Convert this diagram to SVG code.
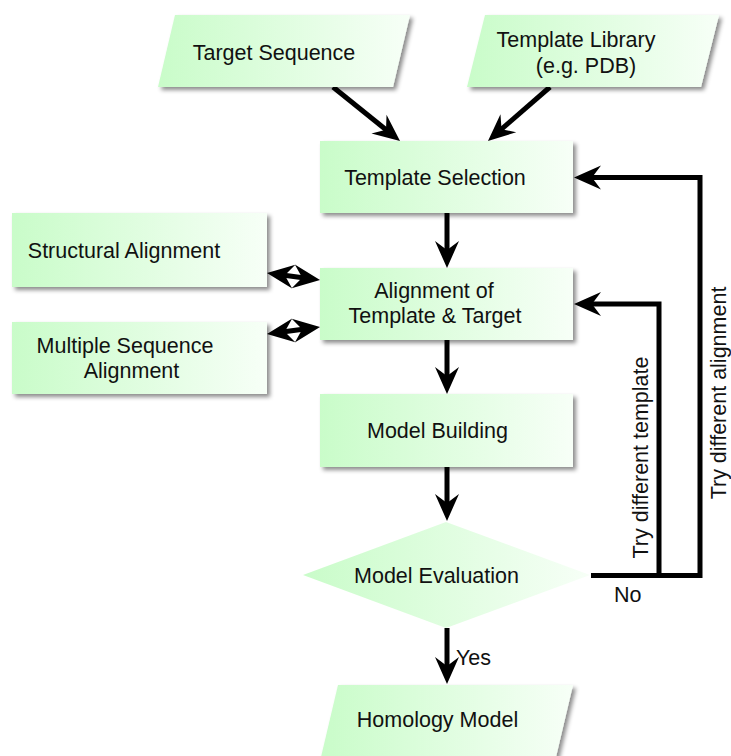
<svg xmlns="http://www.w3.org/2000/svg" width="731" height="756" viewBox="0 0 731 756">
<defs>
<linearGradient id="g" x1="0" y1="0" x2="1" y2="0">
<stop offset="0" stop-color="#c9fcc9"/>
<stop offset="1" stop-color="#f7fff7"/>
</linearGradient>
<filter id="sh" x="-10%" y="-10%" width="125%" height="135%">
<feDropShadow dx="3" dy="3" stdDeviation="2" flood-color="#000" flood-opacity="0.45"/>
</filter>
<marker id="ah" markerUnits="userSpaceOnUse" viewBox="-20 -13 30 26" markerWidth="30" markerHeight="26" refX="0" refY="0" orient="auto-start-reverse">
<path d="M8,0 L-19,-12 L-10,0 L-19,12 Z" fill="#000"/>
</marker>
</defs>
<style>
.n{fill:url(#g);filter:url(#sh)}
.d{fill:url(#g)}
.t{font-family:"Liberation Sans",Arial,Helvetica,sans-serif;font-size:21.5px;fill:#111;text-anchor:middle}
.l{font-family:"Liberation Sans",Arial,Helvetica,sans-serif;font-size:21.5px;fill:#111}
.c{fill:none;stroke:#000;stroke-width:5}
.a{marker-end:url(#ah)}
.b{marker-start:url(#ah);marker-end:url(#ah)}
</style>
<rect width="731" height="756" fill="#fff"/>

<g id="connectors">
<line class="c a" x1="333" y1="87" x2="393.8" y2="136"/>
<line class="c a" x1="550" y1="87" x2="494" y2="135.7"/>
<line class="c a" x1="447" y1="213" x2="447" y2="260"/>
<line class="c a" x1="447" y1="340" x2="447" y2="386"/>
<line class="c a" x1="447" y1="467" x2="447" y2="513"/>
<line class="c a" x1="447" y1="628" x2="447" y2="676"/>
<line class="c b" x1="274.9" y1="274.05" x2="312.1" y2="278.95"/>
<line class="c b" x1="274.9" y1="332.95" x2="312.1" y2="328.05"/>
<polyline class="c a" points="591,575.5 700,575.5 700,177.5 582,177.5"/>
<polyline class="c a" points="659,575.5 659,304 582,304"/>
<text class="l" x="456" y="665">Yes</text>
<text class="l" x="614" y="602">No</text>
<text class="t" transform="translate(648,457.5) rotate(-90)">Try different template</text>
<text class="t" transform="translate(726,393) rotate(-90)">Try different alignment</text>
</g>

<g id="target">
<polygon class="n" points="175,15 410,15 393,87 158,87"/>
<text class="t" x="274" y="60">Target Sequence</text>
</g>
<g id="library">
<polygon class="n" points="485,15 719,15 701,87 467,87"/>
<text class="t" x="576" y="47">Template Library</text>
<text class="t" x="586" y="73">(e.g. PDB)</text>
</g>
<g id="selection">
<rect class="n" x="320" y="141" width="253" height="72"/>
<text class="t" x="435" y="185">Template Selection</text>
</g>
<g id="structural">
<rect class="n" x="12" y="213" width="255" height="74"/>
<text class="t" x="124" y="258">Structural Alignment</text>
</g>
<g id="msa">
<rect class="n" x="12" y="322" width="255" height="72"/>
<text class="t" x="125" y="353">Multiple Sequence</text>
<text class="t" x="131.5" y="378">Alignment</text>
</g>
<g id="alignment">
<rect class="n" x="320" y="268" width="253" height="72"/>
<text class="t" x="434" y="298">Alignment of</text>
<text class="t" x="435" y="323">Template &amp; Target</text>
</g>
<g id="building">
<rect class="n" x="320" y="394" width="253" height="73"/>
<text class="t" x="437.5" y="438">Model Building</text>
</g>
<g id="evaluation">
<polygon class="d" points="446,522 590,575 446,628 303,575"/>
<text class="t" x="436.5" y="583">Model Evaluation</text>
</g>
<g id="homology">
<polygon class="n" points="338,685 573,685 556,757 321,757"/>
<text class="t" x="437.5" y="727">Homology Model</text>
</g>
</svg>
